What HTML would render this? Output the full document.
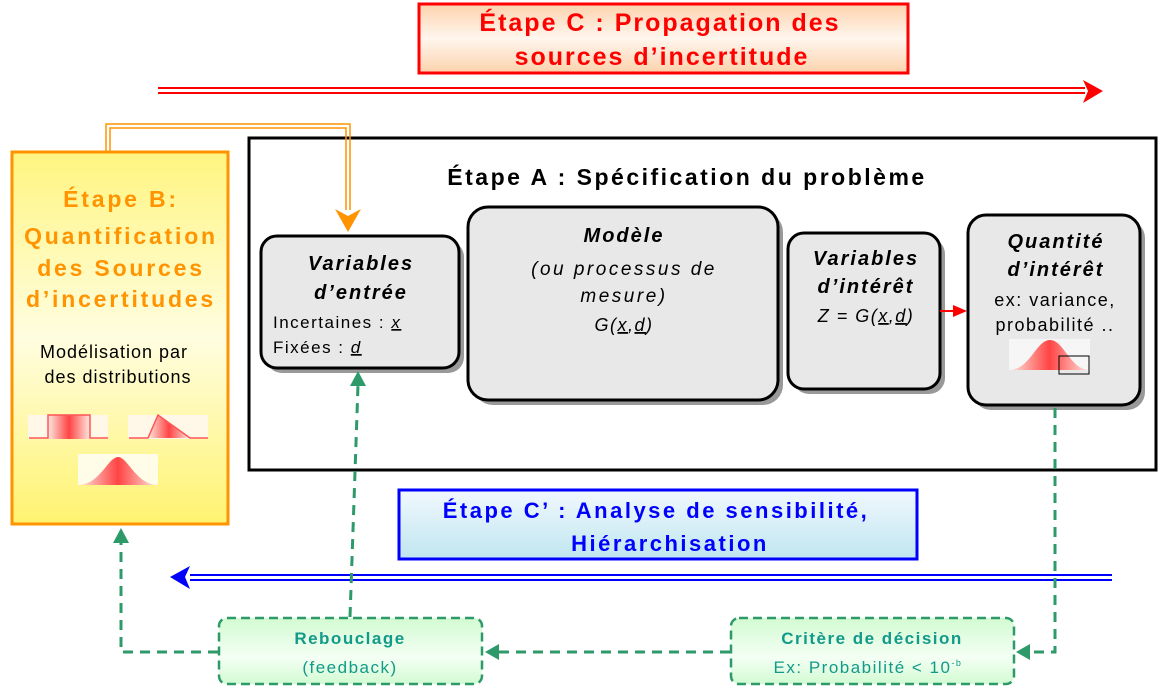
<!DOCTYPE html>
<html><head><meta charset="utf-8"><style>
html,body{margin:0;padding:0;background:#fff;}
svg{display:block;font-family:"Liberation Sans",sans-serif;}
</style></head><body>
<svg width="1164" height="690" viewBox="0 0 1164 690" xmlns="http://www.w3.org/2000/svg">
<defs>
<linearGradient id="gC" x1="0" y1="0" x2="0" y2="1"><stop offset="0" stop-color="#fcd2ac"/><stop offset="0.5" stop-color="#fff6ee"/><stop offset="1" stop-color="#fcd2ac"/></linearGradient>
<linearGradient id="gB" x1="0" y1="0" x2="0" y2="1"><stop offset="0" stop-color="#fff580"/><stop offset="0.5" stop-color="#fffde0"/><stop offset="1" stop-color="#fff370"/></linearGradient>
<linearGradient id="gBl" x1="0" y1="0" x2="0" y2="1"><stop offset="0" stop-color="#f2f8ff"/><stop offset="1" stop-color="#bfe6ef"/></linearGradient>
<linearGradient id="gG" x1="0" y1="0" x2="0" y2="1"><stop offset="0" stop-color="#d2fbd2"/><stop offset="0.6" stop-color="#f4fff4"/><stop offset="1" stop-color="#d2fbd2"/></linearGradient>
<linearGradient id="gR" x1="0" y1="0" x2="1" y2="0"><stop offset="0" stop-color="#fde8e0"/><stop offset="0.5" stop-color="#f44"/><stop offset="1" stop-color="#fde8e0"/></linearGradient>
</defs>

<rect x="419" y="4" width="489" height="69" fill="url(#gC)" stroke="#f00" stroke-width="3"/>
<text x="660" y="31" text-anchor="middle" font-size="25" font-weight="bold" fill="#f00" letter-spacing="2">Étape C : Propagation des</text>
<text x="662" y="65" text-anchor="middle" font-size="25" font-weight="bold" fill="#f00" letter-spacing="2">sources d’incertitude</text>

<line x1="158" y1="88" x2="1085" y2="88" stroke="#f00" stroke-width="2"/>
<line x1="158" y1="93" x2="1085" y2="93" stroke="#f00" stroke-width="2"/>
<polygon points="1083,80 1103,91 1083,103 1088,91" fill="#f00"/>

<rect x="249" y="138" width="907" height="332" fill="#fff" stroke="#000" stroke-width="3"/>
<text x="687" y="185" text-anchor="middle" font-size="23" font-weight="bold" fill="#000" letter-spacing="2.5">Étape A : Spécification du problème</text>

<rect x="12" y="152" width="216" height="372" fill="url(#gB)" stroke="#ff9400" stroke-width="3"/>
<g font-weight="bold" fill="#ff9400" font-size="23" text-anchor="middle" letter-spacing="2.8">
<text x="121" y="207">Étape B:</text>
<text x="121" y="244">Quantification</text>
<text x="121" y="276">des Sources</text>
<text x="121" y="307">d’incertitudes</text>
</g>
<text x="114" y="358" text-anchor="middle" font-size="18" fill="#000" letter-spacing="1">Modélisation par</text>
<text x="118" y="383" text-anchor="middle" font-size="18" fill="#000" letter-spacing="1">des distributions</text>
<rect x="28" y="415" width="80" height="24" fill="#fff8e8"/>
<rect x="48" y="415" width="42" height="24" fill="url(#gR)"/>
<polyline points="29,438 48,438 48,415 90,415 90,438 108,438" fill="none" stroke="#f55" stroke-width="1.5"/>
<rect x="128" y="415" width="80" height="24" fill="#fff8e8"/>
<polygon points="148,438 158,415 190,438" fill="url(#gR)"/>
<polyline points="129,438 148,438 158,415 190,438 208,438" fill="none" stroke="#f55" stroke-width="1.5"/>
<rect x="78" y="454" width="80" height="31" fill="#fffde8"/>
<path d="M78,485 C100,485 108,457 118,457 C128,457 136,485 158,485 Z" fill="url(#gR)"/>

<g fill="none" stroke="#ff9400" stroke-width="1.5">
<polyline points="106,152 106,124 350,124 350,210"/>
<polyline points="110,152 110,128 346,128 346,210"/>
</g>
<polygon points="335,209 348,232 361,209 348,216" fill="#ff9400"/>

<g fill="#999">
<rect x="266" y="241" width="198" height="132" rx="16"/>
<rect x="473" y="212" width="310" height="193" rx="20"/>
<rect x="793" y="238" width="152" height="156" rx="16"/>
<rect x="973" y="220" width="172" height="190" rx="18"/>
</g>
<g fill="#e8e8e8" stroke="#000" stroke-width="3">
<rect x="261" y="236" width="198" height="132" rx="16"/>
<rect x="468" y="207" width="310" height="193" rx="20"/>
<rect x="788" y="233" width="152" height="156" rx="16"/>
<rect x="968" y="215" width="172" height="190" rx="18"/>
</g>
<g font-size="20" font-weight="bold" font-style="italic" text-anchor="middle" fill="#000" letter-spacing="2">
<text x="361" y="270">Variables</text>
<text x="361" y="299">d’entrée</text>
<text x="624" y="242">Modèle</text>
<text x="866" y="265">Variables</text>
<text x="866" y="293">d’intérêt</text>
<text x="1056" y="248">Quantité</text>
<text x="1056" y="276">d’intérêt</text>
</g>
<g font-size="17" fill="#000" letter-spacing="1.5">
<text x="273" y="328">Incertaines : <tspan font-style="italic" text-decoration="underline">x</tspan></text>
<text x="273" y="353">Fixées : <tspan font-style="italic" text-decoration="underline">d</tspan></text>
</g>
<g font-size="19" font-style="italic" text-anchor="middle" fill="#000" letter-spacing="2.5">
<text x="624" y="275">(ou processus de</text>
<text x="624" y="302">mesure)</text>
</g>
<g font-size="18" font-style="italic" text-anchor="middle" fill="#000" letter-spacing="1.5">
<text x="624" y="331">G(<tspan text-decoration="underline">x</tspan>,<tspan text-decoration="underline">d</tspan>)</text>
<text x="866" y="322">Z = G(<tspan text-decoration="underline">x</tspan>,<tspan text-decoration="underline">d</tspan>)</text>
</g>
<g font-size="18" text-anchor="middle" fill="#000" letter-spacing="1.5">
<text x="1055" y="306">ex: variance,</text>
<text x="1055" y="331">probabilité ..</text>
</g>
<rect x="1009" y="339" width="81" height="31" fill="#f6f6f6"/>
<path d="M1009,370 C1030,370 1036,340 1050,340 C1064,340 1070,370 1090,370 Z" fill="url(#gR)"/>
<rect x="1059" y="356" width="30" height="18" fill="none" stroke="#000" stroke-width="1"/>

<line x1="940" y1="311" x2="955" y2="311" stroke="#f00" stroke-width="2"/>
<polygon points="953,305 967,311 953,317" fill="#f00"/>

<rect x="399" y="490" width="518" height="69" fill="url(#gBl)" stroke="#00f" stroke-width="3"/>
<text x="656" y="518" text-anchor="middle" font-size="22" font-weight="bold" fill="#00f" letter-spacing="2.5">Étape C’ : Analyse de sensibilité,</text>
<text x="670" y="551" text-anchor="middle" font-size="22" font-weight="bold" fill="#00f" letter-spacing="2.5">Hiérarchisation</text>

<line x1="190" y1="575" x2="1112" y2="575" stroke="#00f" stroke-width="2"/>
<line x1="190" y1="580" x2="1112" y2="580" stroke="#00f" stroke-width="2"/>
<polygon points="190,566 170,577 190,589 185,577" fill="#00f"/>

<g fill="none" stroke="#2e9a6a" stroke-width="3" stroke-dasharray="10,7">
<polyline points="1055,408 1055,652 1030,652"/>
<line x1="730" y1="652" x2="498" y2="652"/>
<polyline points="218,652 121,652 121,543"/>
<line x1="350" y1="617" x2="358" y2="385"/>
</g>
<polygon points="1030,644 1016,652 1030,660" fill="#2e9a6a"/>
<polygon points="499,644 485,652 499,660" fill="#2e9a6a"/>
<polygon points="113,543 121,528 129,543" fill="#2e9a6a"/>
<polygon points="350,386 358,371 366,386" fill="#2e9a6a"/>

<rect x="219" y="618" width="263" height="66" rx="8" fill="url(#gG)" stroke="#2e9a6a" stroke-width="2.5" stroke-dasharray="9,5"/>
<rect x="731" y="618" width="283" height="66" rx="8" fill="url(#gG)" stroke="#2e9a6a" stroke-width="2.5" stroke-dasharray="9,5"/>
<g fill="#129a8a" text-anchor="middle" font-size="17" letter-spacing="1.5">
<text x="350" y="644" font-weight="bold">Rebouclage</text>
<text x="350" y="673">(feedback)</text>
<text x="872" y="644" font-weight="bold">Critère de décision</text>
<text x="868" y="673">Ex: Probabilité &lt; 10<tspan font-size="9" dy="-7">-b</tspan></text>
</g>
</svg>
</body></html>
